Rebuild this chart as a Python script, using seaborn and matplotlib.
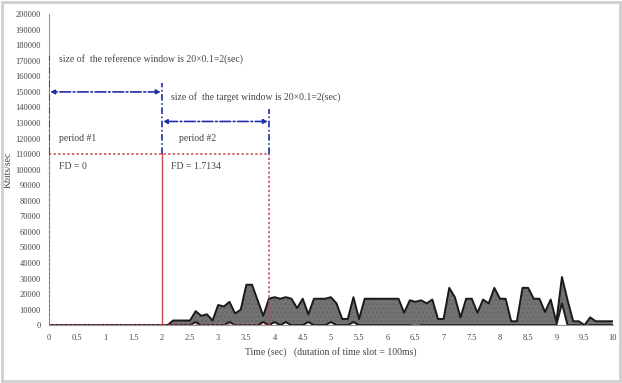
import numpy as np
import pandas as pd
import matplotlib
matplotlib.use("Agg")
import matplotlib.pyplot as plt
import seaborn as sns
from matplotlib.patches import Rectangle

# ---- data -------------------------------------------------------------
time_slots = np.round(np.arange(0, 101) * 0.1, 1)  # 100 ms time slots, 0..10 s

upper_kbits = [
    0, 0, 0, 0, 0, 0, 0, 0, 0, 0,                      # 0.0 - 0.9
    0, 0, 0, 0, 0, 0, 0, 0, 0, 0,                      # 1.0 - 1.9
    0, 0, 3000, 3000, 3000, 3000, 9000, 6000, 7000, 3000,   # 2.0 - 2.9
    13000, 12000, 15000, 7500, 10000, 26000, 26000, 16000, 6000, 17000,  # 3.0 - 3.9
    18000, 17000, 18000, 17000, 11000, 17000, 7000, 17000, 17000, 17000, # 4.0 - 4.9
    18000, 14000, 4000, 4000, 18000, 4000, 17000, 17000, 17000, 17000,   # 5.0 - 5.9
    17000, 17000, 17000, 8000, 16000, 15000, 16000, 14000, 16500, 4000,  # 6.0 - 6.9
    4000, 24000, 18000, 5000, 17000, 17000, 8000, 16500, 14000, 24000,   # 7.0 - 7.9
    17000, 17000, 2500, 2500, 24000, 24000, 17000, 17000, 8500, 16500,   # 8.0 - 8.9
    2000, 31000, 16000, 2500, 2500, 0, 5000, 2500, 2500, 2500,           # 9.0 - 9.9
    2500,                                                                # 10.0
]

lower_kbits = [
    0, 0, 0, 0, 0, 0, 0, 0, 0, 0,
    0, 0, 0, 0, 0, 0, 0, 0, 0, 0,
    0, 0, 0, 0, 0, 0, 2000, 0, 0, 0,
    0, 0, 2000, 0, 0, 0, 0, 0, 2000, 0,
    2000, 0, 2000, 0, 0, 0, 2000, 0, 0, 0,
    2000, 0, 0, 0, 2000, 0, 0, 0, 0, 0,
    0, 0, 0, 0, 0, -1000, 0, 0, 0, 0,
    0, 0, 0, 0, 0, 0, 0, 0, 0, 0,
    0, 0, 0, 0, 0, 0, 0, 0, 0, 0,
    0, 14000, 0, 0, 0, -800, 0, 0, 0, 0,
    0,
]

x_ticks = [0, 0.5, 1, 1.5, 2, 2.5, 3, 3.5, 4, 4.5, 5, 5.5, 6, 6.5, 7, 7.5, 8, 8.5, 9, 9.5, 10]
x_tick_labels = ["0", "0.5", "1", "1.5", "2", "2.5", "3", "3.5", "4", "4.5", "5",
                 "5.5", "6", "6.5", "7", "7.5", "8", "8.5", "9", "9.5", "10"]
y_ticks = list(range(0, 200001, 10000))

ref_window = (0.0, 2.0)
target_window = (2.0, 3.9)
period_top = 110000

df = pd.DataFrame({"t": time_slots, "upper": upper_kbits, "lower": lower_kbits})

# ---- style --------------------------------------------------------------
sns.set_theme(style="white")
plt.rcParams["font.family"] = ["Liberation Serif", "DejaVu Serif"]

fig = plt.figure(figsize=(6.22, 3.83), dpi=100)
ax = fig.add_axes([0.079, 0.151, 0.906, 0.812])

# frame around the whole picture
fig.patches.append(Rectangle((0.004, 0.006), 0.992, 0.99, transform=fig.transFigure,
                             fill=False, edgecolor="#cfcfcf", linewidth=2.0))

txt_col = "#444444"
red = "#c8434b"
blue = "#1f2fa8"

# filled area between the two series
ax.fill_between(df["t"], df["lower"], df["upper"], color="#737373", hatch="....",
                edgecolor="#666666", linewidth=0, zorder=2)
sns.lineplot(data=df, x="t", y="upper", ax=ax, color="#1a1a1a", linewidth=1.4, zorder=3)
sns.lineplot(data=df, x="t", y="lower", ax=ax, color="#1a1a1a", linewidth=1.4, zorder=3)

# period rectangles (red)
ax.plot([0, target_window[1]], [period_top, period_top], color=red, ls=(0, (1.5, 1.5)), lw=1.1, zorder=4)
ax.plot([0, target_window[1]], [0, 0], color=red, ls=(0, (1.5, 1.5)), lw=1.1, zorder=4)
ax.plot([0, 0], [0, period_top], color=red, ls=(0, (1.5, 1.5)), lw=1.1, zorder=4)
ax.plot([target_window[1]] * 2, [0, period_top], color=red, ls=(0, (1.5, 1.5)), lw=1.1, zorder=4)
ax.plot([2, 2], [0, period_top], color=red, lw=1.0, zorder=4)

# window markers (blue dash-dot)
dd = (0, (4, 1.5, 1, 1.5))
ax.plot([0, 0], [period_top, 173000], color=blue, ls=dd, lw=1.2, zorder=4)
ax.plot([2, 2], [period_top, 156000], color=blue, ls=dd, lw=1.2, zorder=4)
ax.plot([target_window[1]] * 2, [period_top, 139000], color=blue, ls=dd, lw=1.2, zorder=4)
ax.annotate("", xy=(ref_window[0] + 0.02, 150000), xytext=(ref_window[1] - 0.02, 150000),
            arrowprops=dict(arrowstyle="<|-|>", color=blue, lw=1.2, ls="-.",
                            mutation_scale=6, shrinkA=0, shrinkB=0), zorder=4)
ax.annotate("", xy=(target_window[0] + 0.02, 131000), xytext=(target_window[1] - 0.02, 131000),
            arrowprops=dict(arrowstyle="<|-|>", color=blue, lw=1.2, ls="-.",
                            mutation_scale=6, shrinkA=0, shrinkB=0), zorder=4)

fs = 7
ax.text(0.17, 171000, "size of  the reference window is 20\u00d70.1=2(sec)", fontsize=fs, color=txt_col, va="center")
ax.text(2.17, 147000, "size of  the target window is 20\u00d70.1=2(sec)", fontsize=fs, color=txt_col, va="center")
ax.text(0.17, 120000, "period #1", fontsize=fs, color=txt_col, va="center")
ax.text(0.17, 102000, "FD = 0", fontsize=fs, color=txt_col, va="center")
ax.text(2.3, 120000, "period #2", fontsize=fs, color=txt_col, va="center")
ax.text(2.17, 102000, "FD = 1.7134", fontsize=fs, color=txt_col, va="center")

# axes
ax.set_xlim(0, 10)
ax.set_ylim(0, 200000)
ax.set_xticks(x_ticks)
ax.set_xticklabels(x_tick_labels)
ax.set_yticks(y_ticks)
ax.set_yticklabels([str(v) for v in y_ticks])
ax.tick_params(axis="both", labelsize=6, colors=txt_col, length=0, pad=6)
ax.set_xlabel("Time (sec)   (dutation of time slot = 100ms)", fontsize=7, color=txt_col, labelpad=4)
ax.set_ylabel("Kbits/sec", fontsize=7, color=txt_col, labelpad=2)
for s in ["top", "right"]:
    ax.spines[s].set_visible(False)
ax.spines["left"].set_color("#999999")
ax.spines["bottom"].set_color("#999999")
ax.spines["left"].set_linewidth(0.8)
ax.spines["bottom"].set_linewidth(0.8)

fig.savefig("out.png", dpi=100)
